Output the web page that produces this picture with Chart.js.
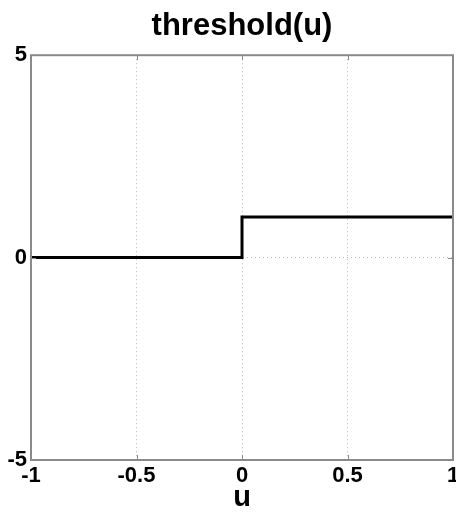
<!DOCTYPE html>
<html>
<head>
<meta charset="utf-8">
<script src="https://cdn.jsdelivr.net/npm/chart.js@4"></script>
<style>
  html, body { margin: 0; padding: 0; background: #fff; }
  #wrap { width: 456px; height: 512px; }
</style>
</head>
<body>
<div id="wrap"><canvas id="grafico" width="456" height="512"></canvas></div>
<script>
const uValues = [-1, 0, 0, 1]
const thresholdValues = [0, 0, 1, 1]
const xTicks = [-1, -0.5, 0, 0.5, 1]
const yTicks = [-5, 0, 5]

const pontos = uValues.map((u, i) => ({ x: u, y: thresholdValues[i] }))

const boxColor = '#8a8a8a'

// box round the plot area plus small inward tick marks
const caixa = {
  id: 'caixa',
  afterDatasetsDraw(chart) {
    const { ctx, chartArea: a, scales } = chart
    ctx.save()
    ctx.strokeStyle = boxColor
    ctx.lineWidth = 1
    ctx.beginPath()
    scales.x.ticks.forEach(t => {
      const px = Math.round(scales.x.getPixelForValue(t.value)) + 0.5
      ctx.moveTo(px, a.bottom); ctx.lineTo(px, a.bottom - 5)
      ctx.moveTo(px, a.top); ctx.lineTo(px, a.top + 5)
    })
    scales.y.ticks.forEach(t => {
      const py = Math.round(scales.y.getPixelForValue(t.value)) + 0.5
      ctx.moveTo(a.left, py); ctx.lineTo(a.left + 5, py)
      ctx.moveTo(a.right, py); ctx.lineTo(a.right - 5, py)
    })
    ctx.stroke()
    ctx.lineWidth = 2
    ctx.strokeRect(a.left, a.top, a.right - a.left, a.bottom - a.top)
    ctx.restore()
  }
}

const fonte = 'Liberation Sans, Arial, Helvetica, sans-serif'

new Chart(document.getElementById('grafico'), {
  type: 'line',
  data: {
    datasets: [{
      data: pontos,
      borderColor: '#000',
      borderWidth: 3,
      pointRadius: 0,
      tension: 0,
      fill: false
    }]
  },
  options: {
    responsive: false,
    animation: false,
    layout: { padding: { left: 0, right: 3, top: 0, bottom: 0 } },
    plugins: {
      legend: { display: false },
      tooltip: { enabled: false },
      title: {
        display: true,
        fullSize: false,
        text: 'threshold(u)',
        color: '#000',
        font: { family: fonte, size: 31, weight: 'bold' },
        padding: { top: 8, bottom: 10 }
      }
    },
    scales: {
      x: {
        type: 'linear',
        min: -1,
        max: 1,
        afterBuildTicks: s => { s.ticks = xTicks.map(v => ({ value: v })) },
        afterFit: s => { s.height = 52; s.paddingLeft = 0; s.paddingRight = 0 },
        grid: { color: '#b8b8b8', lineWidth: 1, drawTicks: false },
        border: { display: false, dash: [1, 3] },
        ticks: {
          color: '#000',
          padding: 3,
          maxRotation: 0,
          autoSkip: false,
          font: { family: fonte, size: 22, weight: 'bold' },
          callback: v => String(v)
        },
        title: {
          display: true,
          text: 'u',
          color: '#000',
          font: { family: fonte, size: 29, weight: 'bold' },
          padding: { top: 0, bottom: -3 }
        }
      },
      y: {
        type: 'linear',
        min: -5,
        max: 5,
        afterBuildTicks: s => { s.ticks = yTicks.map(v => ({ value: v })) },
        afterFit: s => { s.width = 31; s.paddingTop = 0; s.paddingBottom = 0 },
        grid: { color: '#b8b8b8', lineWidth: 1, drawTicks: false },
        border: { display: false, dash: [1, 3] },
        ticks: {
          color: '#000',
          padding: 4,
          autoSkip: false,
          font: { family: fonte, size: 22, weight: 'bold' },
          callback: v => String(v)
        }
      }
    }
  },
  plugins: [caixa]
})
</script>
</body>
</html>
